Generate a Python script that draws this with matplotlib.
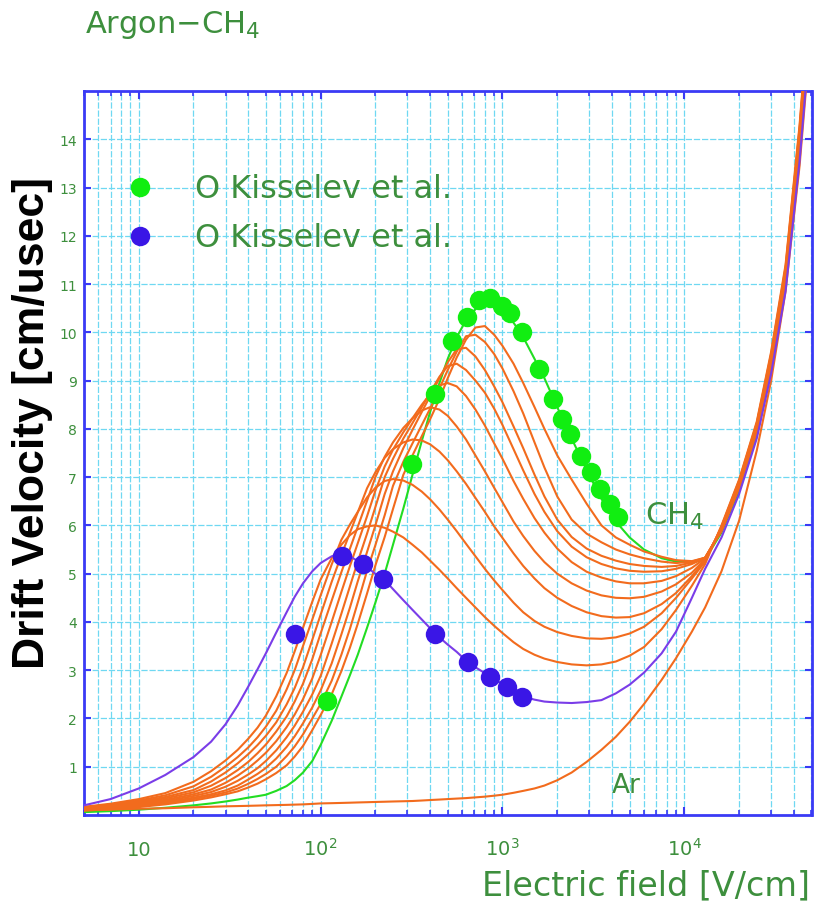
import matplotlib
matplotlib.use("Agg")
import matplotlib.pyplot as plt
from matplotlib.ticker import FixedLocator, NullFormatter, FixedFormatter

# ---------------- data ----------------
E = [5, 7, 10, 14, 20, 25, 30, 35, 40, 45, 50, 57, 65, 72, 80, 90, 100, 115, 130,
     145, 160, 180, 200, 225, 250, 285, 320, 360, 400, 450, 500, 560, 630, 710,
     800, 900, 1000, 1150, 1300, 1500, 1700, 2000, 2400, 2900, 3500, 4200, 5000,
     6000, 7500, 9000, 11000, 13000, 16000, 20000, 25000, 30000, 36000, 43000,
     50000]

v_ar = [0.10, 0.11, 0.13, 0.14, 0.16, 0.17, 0.18, 0.185, 0.19, 0.195, 0.20, 0.205,
        0.21, 0.215, 0.22, 0.23, 0.24, 0.245, 0.25, 0.255, 0.26, 0.265, 0.27, 0.275,
        0.28, 0.285, 0.29, 0.30, 0.31, 0.32, 0.33, 0.34, 0.35, 0.365, 0.38, 0.40,
        0.42, 0.46, 0.50, 0.55, 0.61, 0.72, 0.88, 1.10, 1.35, 1.62, 1.93, 2.30,
        2.80, 3.25, 3.80, 4.30, 5.05, 6.10, 7.55, 9.00, 10.85, 13.45, 16.40]

v_low = [0.20, 0.33, 0.55, 0.83, 1.20, 1.52, 1.88, 2.27, 2.66, 3.02, 3.35, 3.78,
         4.20, 4.52, 4.80, 5.05, 5.22, 5.36, 5.41, 5.36, 5.26, 5.13, 5.00, 4.87,
         4.68, 4.45, 4.25, 4.05, 3.87, 3.68, 3.53, 3.38, 3.20, 3.06, 2.94, 2.82,
         2.71, 2.56, 2.45, 2.39, 2.35, 2.33, 2.32, 2.34, 2.38, 2.52, 2.70, 2.95,
         3.35, 3.80, 4.50, 5.10, 5.75, 6.65, 7.80, 9.15, 10.85, 13.55, 16.50]

v_mix1 = [0.17, 0.234, 0.329, 0.454, 0.688, 0.909, 1.13, 1.35, 1.58, 1.81, 2.06,
          2.46, 2.94, 3.39, 3.88, 4.42, 4.88, 5.32, 5.60, 5.80, 5.92, 5.98, 6.00,
          5.95, 5.87, 5.75, 5.60, 5.44, 5.27, 5.08, 4.90, 4.70, 4.50, 4.30, 4.10,
          3.92, 3.77, 3.58, 3.44, 3.32, 3.24, 3.17, 3.12, 3.10, 3.12, 3.18, 3.30,
          3.48, 3.85, 4.25, 4.75, 5.20, 6.00, 6.95, 8.15, 9.60, 11.40, 14.30, 17.40]
v_mix2 = [0.16, 0.217, 0.30, 0.408, 0.594, 0.791, 1.00, 1.20, 1.40, 1.61, 1.83,
          2.16, 2.60, 3.00, 3.50, 4.05, 4.55, 5.19, 5.70, 6.02, 6.28, 6.58, 6.78,
          6.92, 6.96, 6.93, 6.84, 6.70, 6.54, 6.33, 6.12, 5.88, 5.62, 5.36, 5.10,
          4.86, 4.66, 4.40, 4.20, 4.02, 3.90, 3.79, 3.71, 3.66, 3.65, 3.68, 3.76,
          3.90, 4.18, 4.50, 4.90, 5.25, 5.98, 6.93, 8.12, 9.56, 11.35, 14.24, 17.33]
v_mix3 = [0.15, 0.202, 0.277, 0.373, 0.517, 0.694, 0.881, 1.07, 1.26, 1.45, 1.64,
          1.92, 2.29, 2.63, 3.06, 3.63, 4.15, 4.83, 5.38, 5.85, 6.27, 6.77, 7.10,
          7.40, 7.58, 7.72, 7.78, 7.76, 7.68, 7.53, 7.35, 7.12, 6.86, 6.57, 6.28,
          5.98, 5.74, 5.42, 5.16, 4.90, 4.70, 4.50, 4.33, 4.20, 4.12, 4.09, 4.10,
          4.18, 4.37, 4.60, 4.95, 5.28, 5.96, 6.90, 8.09, 9.52, 11.30, 14.18, 17.26]
v_mix4 = [0.14, 0.188, 0.257, 0.344, 0.47, 0.607, 0.766, 0.931, 1.10, 1.28, 1.46,
          1.73, 2.04, 2.35, 2.72, 3.23, 3.76, 4.44, 5.03, 5.52, 5.97, 6.51, 7.00,
          7.42, 7.72, 8.02, 8.22, 8.38, 8.45, 8.40, 8.27, 8.05, 7.78, 7.45, 7.12,
          6.78, 6.48, 6.08, 5.78, 5.47, 5.24, 5.00, 4.80, 4.65, 4.55, 4.50, 4.49,
          4.52, 4.63, 4.78, 5.02, 5.30, 5.94, 6.88, 8.06, 9.48, 11.25, 14.12, 17.19]
v_mix5 = [0.13, 0.173, 0.236, 0.315, 0.428, 0.527, 0.667, 0.815, 0.968, 1.13, 1.29,
          1.53, 1.82, 2.08, 2.40, 2.83, 3.31, 4.00, 4.62, 5.16, 5.63, 6.19, 6.72,
          7.22, 7.57, 7.93, 8.22, 8.50, 8.72, 8.90, 8.95, 8.88, 8.68, 8.40, 8.07,
          7.70, 7.38, 6.92, 6.55, 6.15, 5.85, 5.52, 5.24, 5.04, 4.92, 4.84, 4.80,
          4.80, 4.85, 4.95, 5.12, 5.32, 5.92, 6.85, 8.03, 9.44, 11.20, 14.05, 17.12]
v_mix6 = [0.12, 0.16, 0.217, 0.289, 0.393, 0.476, 0.585, 0.709, 0.839, 0.971, 1.12,
          1.34, 1.61, 1.85, 2.14, 2.50, 2.88, 3.55, 4.17, 4.74, 5.25, 5.83, 6.38,
          7.00, 7.38, 7.80, 8.12, 8.45, 8.75, 9.08, 9.30, 9.35, 9.22, 9.00, 8.75,
          8.42, 8.08, 7.58, 7.14, 6.65, 6.28, 5.88, 5.56, 5.34, 5.20, 5.11, 5.06,
          5.04, 5.05, 5.10, 5.20, 5.33, 5.91, 6.83, 8.00, 9.41, 11.15, 13.98, 17.05]
v_mix7 = [0.11, 0.146, 0.198, 0.265, 0.359, 0.43, 0.51, 0.61, 0.735, 0.852, 0.974,
          1.17, 1.41, 1.63, 1.90, 2.23, 2.58, 3.14, 3.74, 4.30, 4.84, 5.45, 6.00,
          6.65, 7.12, 7.60, 7.98, 8.35, 8.68, 9.05, 9.38, 9.65, 9.68, 9.50, 9.22,
          8.88, 8.55, 8.05, 7.60, 7.05, 6.60, 6.12, 5.76, 5.52, 5.37, 5.27, 5.20,
          5.16, 5.14, 5.16, 5.23, 5.33, 5.90, 6.80, 7.97, 9.37, 11.10, 13.92, 16.98]
v_mix8 = [0.10, 0.134, 0.181, 0.242, 0.33, 0.399, 0.467, 0.548, 0.646, 0.747, 0.85,
          1.00, 1.22, 1.42, 1.67, 2.00, 2.30, 2.78, 3.32, 3.86, 4.40, 5.06, 5.59,
          6.21, 6.82, 7.32, 7.70, 8.08, 8.42, 8.84, 9.22, 9.60, 9.92, 9.95, 9.80,
          9.55, 9.25, 8.78, 8.32, 7.72, 7.20, 6.60, 6.12, 5.83, 5.65, 5.50, 5.40,
          5.32, 5.25, 5.22, 5.25, 5.33, 5.89, 6.79, 7.95, 9.33, 11.07, 13.88, 16.93]
v_mix9 = [0.09, 0.12, 0.164, 0.22, 0.30, 0.365, 0.43, 0.49, 0.57, 0.65, 0.74,
          0.87, 1.03, 1.21, 1.43, 1.76, 2.07, 2.50, 2.98, 3.47, 3.96, 4.59, 5.17,
          5.76, 6.34, 7.05, 7.45, 7.85, 8.20, 8.62, 9.05, 9.48, 9.85, 10.10, 10.13,
          9.95, 9.72, 9.35, 8.95, 8.45, 8.00, 7.45, 6.95, 6.45, 6.00, 5.75, 5.60,
          5.46, 5.35, 5.28, 5.26, 5.33, 5.88, 6.78, 7.94, 9.30, 11.05, 13.85, 16.88]

v_ch4 = [0.06, 0.08, 0.11, 0.15, 0.20, 0.24, 0.28, 0.32, 0.36, 0.39, 0.42, 0.50,
         0.60, 0.72, 0.88, 1.12, 1.45, 1.95, 2.45, 2.90, 3.32, 3.88, 4.40, 5.00,
         5.60, 6.35, 7.05, 7.75, 8.35, 8.95, 9.45, 9.90, 10.25, 10.48, 10.58, 10.55,
         10.45, 10.20, 9.90, 9.45, 9.05, 8.45, 7.80, 7.15, 6.55, 6.08, 5.75, 5.50,
         5.32, 5.25, 5.23, 5.30, 5.85, 6.72, 7.85, 9.25, 10.95, 13.70, 16.70]

# measured points (Kisselev et al.)
g_E = [109, 319, 428, 529, 640, 738, 859, 995, 1106, 1283, 1578, 1906, 2128,
       2364, 2685, 3048, 3455, 3919, 4335]
g_v = [2.36, 7.27, 8.72, 9.82, 10.31, 10.68, 10.72, 10.54, 10.40, 10.00, 9.25,
       8.61, 8.20, 7.89, 7.43, 7.10, 6.75, 6.44, 6.17]
b_E = [72, 131, 171, 221, 428, 643, 859, 1065, 1288]
b_v = [3.75, 5.37, 5.20, 4.89, 3.75, 3.17, 2.86, 2.65, 2.44]

x_major = [10, 100, 1000, 10000]
x_major_labels = ["10", "$10^2$", "$10^3$", "$10^4$"]
y_major = list(range(1, 15))
legend_labels = ["O Kisselev et al.", "O Kisselev et al."]

# ---------------- style ----------------
ORANGE = "#f26b1d"
GREEN_LINE = "#22dd22"
GREEN_DOT = "#11ee11"
PURPLE = "#7a3de8"
BLUE_DOT = "#3a16e6"
GRID = "#6fd8f2"
AXC = "#3a3af5"
TXT = "#3d8f3d"

fig = plt.figure(figsize=(8.14, 9.04), dpi=100)
ax = fig.add_axes([84 / 814, 88 / 904, 727.5 / 814, 724 / 904])

ax.set_xscale("log")
ax.set_xlim(5, 50000)
ax.set_ylim(0, 15)

# grid
ax.xaxis.set_major_locator(FixedLocator(x_major))
ax.xaxis.set_minor_locator(FixedLocator(
    [m * 10 ** d for d in range(0, 5) for m in range(2, 10) if 5 <= m * 10 ** d <= 50000]))
ax.yaxis.set_major_locator(FixedLocator(y_major))
ax.grid(True, which="both", axis="x", color=GRID, lw=0.9, ls=(0, (5, 1.5)), zorder=0)
ax.grid(True, which="major", axis="y", color=GRID, lw=0.9, ls=(0, (5, 1.5)), zorder=0)
ax.set_axisbelow(True)

# curves
lw = 1.5
ax.plot(E, v_ar, color=ORANGE, lw=lw, zorder=3)
ax.plot(E, v_ch4, color=GREEN_LINE, lw=lw, zorder=2.8)
for vals in [v_mix1, v_mix2, v_mix3, v_mix4, v_mix5, v_mix6, v_mix7, v_mix8, v_mix9]:
    ax.plot(E, vals, color=ORANGE, lw=lw, zorder=3)
ax.plot(E, v_low, color=PURPLE, lw=lw, zorder=4)

ax.plot(g_E, g_v, "o", color=GREEN_DOT, ms=14, mew=0, zorder=5)
ax.plot(b_E, b_v, "o", color=BLUE_DOT, ms=14, mew=0, zorder=5)

# legend (manual)
ax.plot([0.0769], [0.8674], "o", color=GREEN_DOT, ms=14, mew=0,
        transform=ax.transAxes, clip_on=False, zorder=6)
ax.plot([0.0769], [0.7997], "o", color=BLUE_DOT, ms=14, mew=0,
        transform=ax.transAxes, clip_on=False, zorder=6)
ax.text(0.1525, 0.8536, legend_labels[0], transform=ax.transAxes, color=TXT,
        fontsize=23, va="baseline", ha="left", family="DejaVu Sans", zorder=6)
ax.text(0.1525, 0.7859, legend_labels[1], transform=ax.transAxes, color=TXT,
        fontsize=23, va="baseline", ha="left", family="DejaVu Sans", zorder=6)

# curve labels
ax.text(0.7706, 0.4019, "CH$_4$", transform=ax.transAxes, color=TXT,
        fontsize=22, va="baseline", ha="left")
ax.text(0.7253, 0.0318, "Ar", transform=ax.transAxes, color=TXT,
        fontsize=19, va="baseline", ha="left")

# axes styling
for sp in ax.spines.values():
    sp.set_color(AXC)
    sp.set_linewidth(2)
ax.xaxis.set_major_formatter(FixedFormatter(x_major_labels))
ax.xaxis.set_minor_formatter(NullFormatter())
ax.yaxis.set_major_formatter(FixedFormatter([str(v) for v in y_major]))
ax.tick_params(axis="both", which="both", direction="in", color=AXC,
               top=True, right=True)
ax.tick_params(axis="x", which="major", length=6, width=1.5, labelsize=14,
               labelcolor=TXT, pad=29)
ax.tick_params(axis="x", which="minor", length=3.5, width=1.2)
ax.tick_params(axis="y", which="major", length=5, width=1.5, labelsize=10,
               labelcolor=TXT, pad=5)
for t in ax.xaxis.get_major_ticks():
    t.label1.set_verticalalignment("baseline")

# texts
fig.text(85 / 814, 1 - 33 / 904, "Argon\u2212CH$_4$", color=TXT, fontsize=22,
         ha="left", va="baseline")
fig.text(810 / 814, 1 - 895 / 904, "Electric field [V/cm]", color=TXT,
         fontsize=24, ha="right", va="baseline")
fig.text(33 / 814, 1 - 423.5 / 904, "Drift Velocity [cm/usec]", rotation=90,
         ha="center", va="center", fontsize=32, fontweight="bold",
         family="Liberation Sans", color="black")

fig.savefig("out.png", dpi=100)
